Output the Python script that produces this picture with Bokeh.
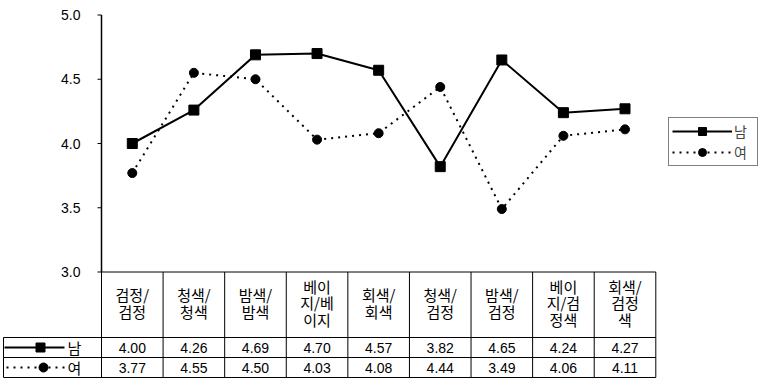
from bokeh.plotting import figure
from bokeh.models import Range1d, Legend, LegendItem
from bokeh.core.properties import value
from bokeh.embed import file_html
from bokeh.resources import INLINE

# ---- data ----
categories = ["검정/\n검정", "청색/\n청색", "밤색/\n밤색", "베이\n지/베\n이지", "회색/\n회색",
              "청색/\n검정", "밤색/\n검정", "베이\n지/검\n정색", "회색/\n검정\n색"]
male = [4.00, 4.26, 4.69, 4.70, 4.57, 3.82, 4.65, 4.24, 4.27]
female = [3.77, 4.55, 4.50, 4.03, 4.08, 4.44, 3.49, 4.06, 4.11]
series_names = ["남", "여"]
y_ticks = [3.0, 3.5, 4.0, 4.5, 5.0]
y_tick_labels = ["3.0", "3.5", "4.0", "4.5", "5.0"]

# ---- layout (canvas pixels) ----
W, H = 763, 387
AX_PX, END_PX = 101.0, 655.3        # left / right edge of category columns
TOP_PX, BASE_PX = 14.5, 271.5       # pixel rows of 5.0 and 3.0
Y_MIN, Y_MAX = 3.0, 5.0
HEAD_BOT, ROW1_BOT, ROW2_BOT = 337.0, 357.0, 377.0
LABEL_LEFT = 3.0

n = len(categories)
sx = (END_PX - AX_PX) / n
sy = (BASE_PX - TOP_PX) / (Y_MAX - Y_MIN)

def xd(px):
    return (px - AX_PX) / sx

def yd(py):
    return Y_MAX - (py - TOP_PX) / sy

p = figure(width=W, height=H, output_backend="svg", toolbar_location=None,
           x_range=Range1d(xd(0), xd(W)), y_range=Range1d(yd(H), yd(0)),
           min_border=0, x_axis_location=None, y_axis_location=None)
p.grid.visible = False
p.outline_line_color = None
p.background_fill_color = "white"

KR = value("Noto Sans CJK KR")
NUM = value("Liberation Sans")

# value axis: line, ticks, labels
p.segment(x0=[0], y0=[Y_MIN], x1=[0], y1=[Y_MAX], line_color="black", line_width=1.5)
p.segment(x0=[xd(AX_PX - 4)] * len(y_ticks), y0=y_ticks, x1=[0] * len(y_ticks), y1=y_ticks,
          line_color="black", line_width=1.2)
p.text(x=[xd(80)] * len(y_ticks), y=y_ticks, text=y_tick_labels, text_font=NUM,
       text_font_size="14px", text_align="right", text_baseline="middle", text_color="black")

# data table grid
y_top, y_h, y_r1, y_r2 = Y_MIN, yd(HEAD_BOT), yd(ROW1_BOT), yd(ROW2_BOT)
x_lab = xd(LABEL_LEFT)
vx = list(range(n + 1))
p.segment(x0=vx, y0=[y_top] * (n + 1), x1=vx, y1=[y_r2] * (n + 1), line_color="black", line_width=1)
p.segment(x0=[0, x_lab, x_lab, x_lab, x_lab], y0=[y_top, y_h, y_r1, y_r2, y_h],
          x1=[n, n, n, n, x_lab], y1=[y_top, y_h, y_r1, y_r2, y_r2], line_color="black", line_width=1)

centers = [i + 0.5 for i in range(n)]

# header text
p.text(x=centers, y=[yd(302.5)] * n, text=categories, text_font=KR, text_font_size="15px",
       text_align="center", text_baseline="middle", text_color="black", text_line_height=0.8)

# table values
row_y = [(y_h + y_r1) / 2, (y_r1 + y_r2) / 2]
p.text(x=centers, y=[row_y[0]] * n, text=[f"{v:.2f}" for v in male], text_font=NUM,
       text_font_size="14px", text_align="center", text_baseline="middle", text_color="black")
p.text(x=centers, y=[row_y[1]] * n, text=[f"{v:.2f}" for v in female], text_font=NUM,
       text_font_size="14px", text_align="center", text_baseline="middle", text_color="black")

# row keys in the table
p.segment(x0=[xd(4)], y0=[row_y[0]], x1=[xd(64)], y1=[row_y[0]], line_color="black", line_width=2)
p.scatter(x=[xd(40)], y=[row_y[0]], marker="square", size=9, color="black")
p.segment(x0=[xd(6)], y0=[row_y[1]], x1=[xd(64)], y1=[row_y[1]], line_color="black",
          line_width=2, line_dash="2 5")
p.scatter(x=[xd(43)], y=[row_y[1]], marker="circle", size=9, color="black")
p.text(x=[xd(74)] * 2, y=row_y, text=series_names, text_font=KR, text_font_size="15px",
       text_align="center", text_baseline="middle", text_color="black")

# series
lm = p.line(centers, male, line_color="black", line_width=2)
sm = p.scatter(centers, male, marker="square", size=10, color="black")
lf = p.line(centers, female, line_color="black", line_width=2, line_dash="2 5")
sf = p.scatter(centers, female, marker="circle", size=9, color="black")

legend = Legend(items=[LegendItem(label=series_names[0], renderers=[lm, sm]),
                       LegendItem(label=series_names[1], renderers=[lf, sf])],
                location=(668, H - 166), glyph_width=60, glyph_height=20, label_standoff=2,
                padding=3, spacing=1, margin=0, border_line_color="black", border_line_width=1,
                label_text_font="Noto Sans CJK KR", label_text_font_size="14px",
                label_height=20, background_fill_alpha=1)
p.add_layout(legend, "center")

open("out.html", "w").write(file_html(p, INLINE))
